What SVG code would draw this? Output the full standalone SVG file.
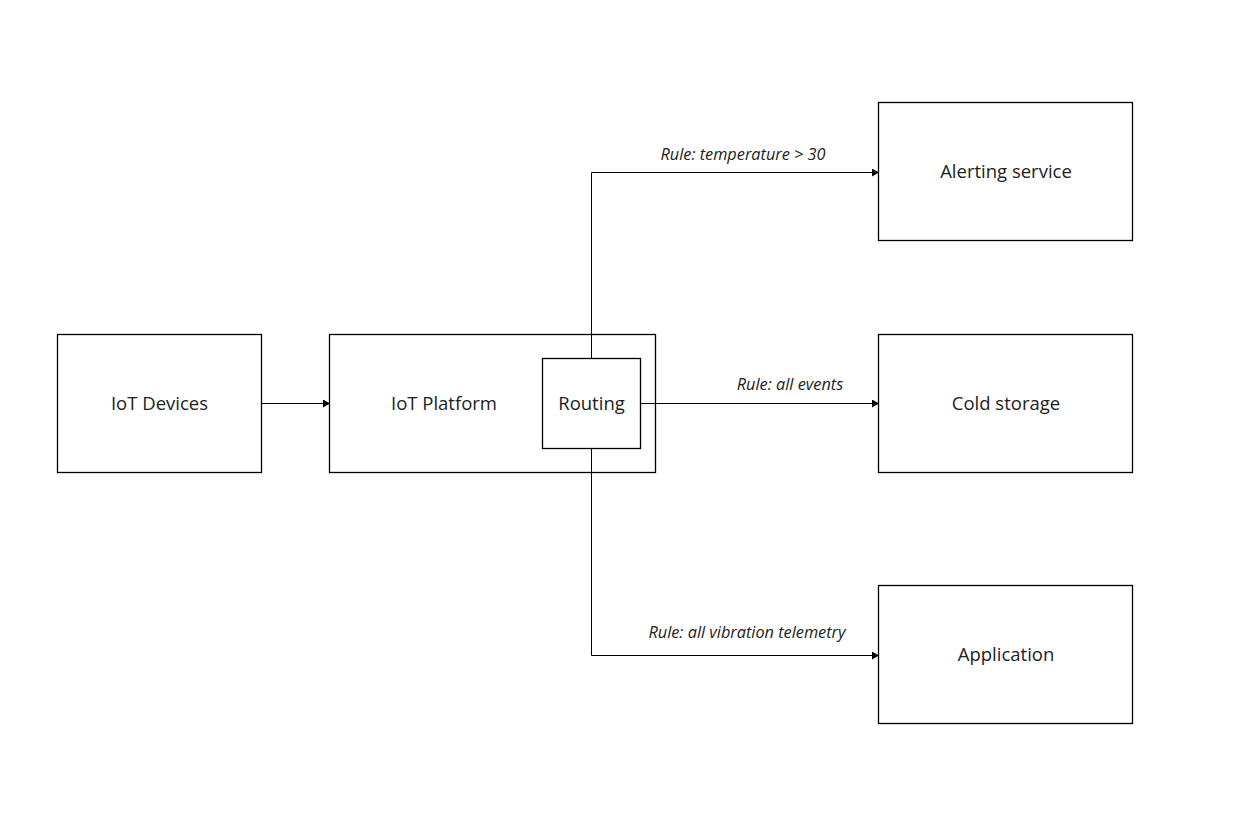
<svg xmlns="http://www.w3.org/2000/svg" width="1236" height="824" viewBox="0 0 1236 824">
<defs>
<marker id="arr" markerWidth="7" markerHeight="8" refX="6" refY="4" orient="auto" markerUnits="userSpaceOnUse">
<path d="M0,0 L7,4 L0,8 Z" fill="#000"/>
</marker>
<style>
.box{fill:#fff;stroke:#000;stroke-width:1.3}
.lbl{font-family:"Open Sans","Liberation Sans",sans-serif;font-size:18.5px;fill:#222;text-anchor:middle;dominant-baseline:central}
.rule{font-family:"Open Sans","Liberation Sans",sans-serif;font-size:16.3px;font-style:italic;fill:#222;text-anchor:middle}
.con{fill:none;stroke:#000;stroke-width:1}
</style>
</defs>
<rect width="1236" height="824" fill="#fff"/>
<g id="iot-devices"><rect class="box" x="57.5" y="334.5" width="204" height="138"/><text class="lbl" x="159.5" y="402.5">IoT Devices</text></g>
<g id="iot-platform"><rect class="box" x="329.5" y="334.5" width="326" height="138"/><text class="lbl" x="444" y="402.5">IoT Platform</text></g>
<g id="alerting"><rect class="box" x="878.5" y="102.5" width="254" height="138"/><text class="lbl" x="1006" y="170.5">Alerting service</text></g>
<g id="cold-storage"><rect class="box" x="878.5" y="334.5" width="254" height="138"/><text class="lbl" x="1006" y="402.5">Cold storage</text></g>
<g id="application"><rect class="box" x="878.5" y="585.5" width="254" height="138"/><text class="lbl" x="1006" y="653.5">Application</text></g>
<g id="connectors">
<path class="con" d="M262,403.5 H329" marker-end="url(#arr)"/>
<path class="con" d="M640,403.5 H878" marker-end="url(#arr)"/>
<path class="con" d="M591.5,358 V172.5 H878" marker-end="url(#arr)"/>
<path class="con" d="M591.5,448 V655.5 H878" marker-end="url(#arr)"/>
<text class="rule" x="743" y="160">Rule: temperature &gt; 30</text>
<text class="rule" x="790" y="390">Rule: all events</text>
<text class="rule" x="747" y="638">Rule: all vibration telemetry</text>
</g>
<g id="routing"><rect class="box" x="542.5" y="358.5" width="98" height="90"/><text class="lbl" x="591.5" y="402.5">Routing</text></g>
</svg>
